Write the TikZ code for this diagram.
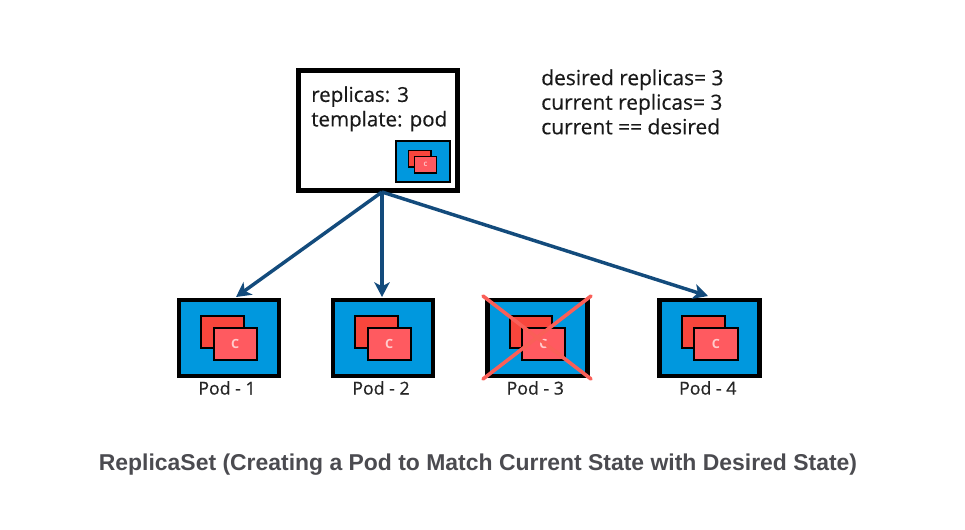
\documentclass[tikz,border=0pt]{standalone}
\usepackage{fontspec}
\setmainfont{Open Sans}
\newfontfamily\titlefont{Liberation Sans}
\usetikzlibrary{arrows.meta,positioning}

\definecolor{podblue}{HTML}{0098DE}
\definecolor{backred}{HTML}{F8463C}
\definecolor{frontred}{HTML}{FF5A60}
\definecolor{arrowblue}{HTML}{134B7C}
\definecolor{crossred}{HTML}{FA5F58}
\definecolor{titlegray}{HTML}{4B4B50}

\tikzset{
    podbox/.style={draw=black, fill=podblue, line width=3.6pt, minimum width=75pt, minimum height=57pt, inner sep=0pt},
    backbox/.style={draw=black, fill=backred, line width=1.5pt, minimum width=32pt, minimum height=24.5pt, inner sep=0pt},
    frontbox/.style={draw=black, fill=frontred, line width=1.5pt, minimum width=32.5pt, minimum height=24.5pt, inner sep=0pt, text=white!80!red, font=\fontsize{9.5}{10}\selectfont\bfseries},
    podlabel/.style={font=\fontsize{13.3}{14}\selectfont\addfontfeature{FakeBold=0.8}, text=black!85, inner sep=0pt},
    infotext/.style={font=\fontsize{15.5}{18.4}\selectfont\addfontfeature{FakeBold=0.4}, text=black!90, align=left, inner sep=0pt},
    linkarrow/.style={draw=arrowblue, line width=2.6pt, -{Stealth[length=11pt,width=11.5pt,inset=3pt]}},
    crossline/.style={draw=crossred, line width=2.7pt, line cap=round},
}

\begin{document}
\begin{tikzpicture}[x=0.75pt, y=-0.75pt]

    \useasboundingbox (0,0) rectangle (965,529);

    % ReplicaSet box
    \node[draw=black, line width=3.75pt, minimum width=119pt, minimum height=89.5pt, inner sep=0pt] (rs) at (378,130.5) {};
    \node[infotext, anchor=north west, font=\fontsize{15.4}{18.4}\selectfont\addfontfeature{FakeBold=0.4}] (rstext) at (311,86) {replicas: 3\\template: pod};

    % Pod template inside the box
    \node[draw=black, fill=podblue, line width=1.4pt, minimum width=40pt, minimum height=30.5pt, inner sep=0pt] (tpl) at (423,161.5) {};
    \node[draw=black, fill=backred, line width=1pt, minimum width=17pt, minimum height=12.5pt, inner sep=0pt] (tplback) at (419.7,158.5) {};
    \node[draw=black, fill=frontred, line width=1pt, minimum width=16.5pt, minimum height=12.5pt, inner sep=0pt, text=white!80!red, font=\fontsize{4.5}{5}\selectfont\bfseries] (tplfront) at (425.5,164.8) {C};

    % Status text
    \node[infotext, anchor=north west, font=\fontsize{15.7}{18.4}\selectfont\addfontfeature{FakeBold=0.4}] (status) at (541,69) {desired replicas= 3\\current replicas= 3\\current == desired};

    % Pods
    \foreach \n/\x in {1/229, 2/383, 3/537.3, 4/709.8} {
        \node[podbox] (pod\n) at (\x,338) {};
        \node[backbox] at (\x-6.4,332) (back\n) {};
        \node[frontbox] at (\x+6.2,344) (front\n) {C};
        \node[podlabel, below=1.8pt of pod\n.south, xshift=-1.5pt] (label\n) {Pod - \n};
    }

    % Links
    \coordinate (fork) at (382,192);
    \coordinate (tipa) at (236,297);
    \coordinate (tipb) at (382,297);
    \coordinate (tipd) at (708,296);
    \draw[linkarrow] (fork) -- (tipa);
    \draw[linkarrow] (fork) -- (tipb);
    \draw[linkarrow] (fork) -- (tipd);

    % Deleted pod
    \coordinate (xa) at (483,296);
    \coordinate (xb) at (591,296);
    \coordinate (xc) at (483,379);
    \coordinate (xd) at (591,379);
    \draw[crossline] (xa) -- (xd);
    \draw[crossline] (xb) -- (xc);

    % Caption
    \node[font=\titlefont\fontsize{17.2}{18}\selectfont\bfseries, text=titlegray, inner sep=0pt] (caption) at (478,465) {ReplicaSet (Creating a Pod to Match Current State with Desired State)};

\end{tikzpicture}
\end{document}
